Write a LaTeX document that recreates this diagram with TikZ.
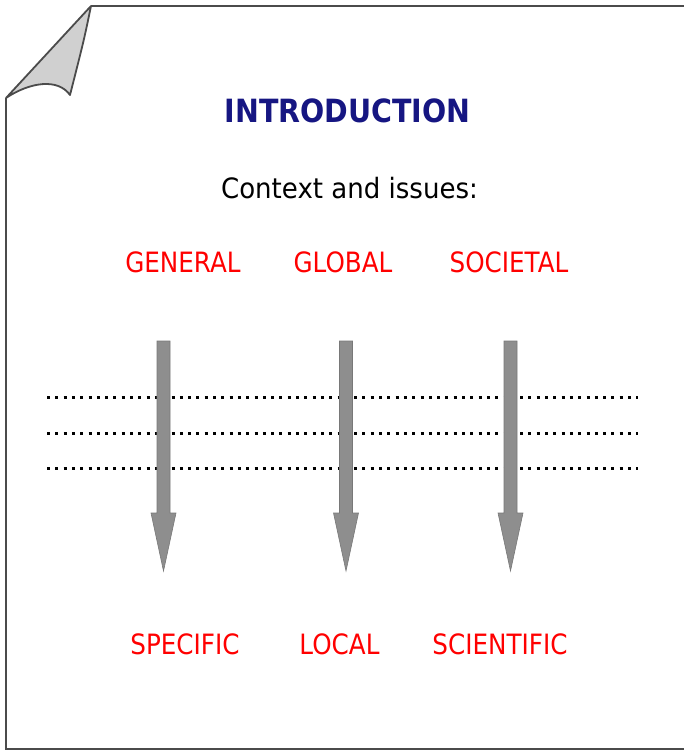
\documentclass[tikz,border=0pt]{standalone}
\usepackage{fontspec}
\setmainfont{DejaVu Sans}
\newfontfamily\capsfont[FakeStretch=0.88]{DejaVu Sans}
\newfontfamily\headfont[FakeStretch=0.89]{DejaVu Sans}
\newfontfamily\subfont[FakeStretch=0.93]{DejaVu Sans}
\usetikzlibrary{calc}
\definecolor{navyblue}{RGB}{22,22,130}
\definecolor{arrowgray}{RGB}{142,142,142}
\definecolor{arrowedge}{RGB}{120,120,120}
\definecolor{pageline}{RGB}{75,75,75}
\definecolor{foldgray}{RGB}{208,208,208}
\tikzset{
  title/.style={anchor=base, text=navyblue, font=\headfont\bfseries\fontsize{32}{36}\selectfont},
  subtitle/.style={anchor=base, text=black, font=\subfont\fontsize{28}{32}\selectfont},
  scale label/.style={anchor=base, text=red, font=\capsfont\fontsize{28}{32}\selectfont},
  dotline/.style={line width=3pt, dash pattern=on 3pt off 5.3pt},
  bigarrow/.style={fill=arrowgray, draw=arrowedge, line width=0.6pt, line join=miter,
    to path={let \p1=(\tikztostart), \p2=(\tikztotarget) in
      (\x1-6.5pt,\y1) -- (\x1+6.5pt,\y1) -- (\x1+6.5pt,\y2+58pt) -- (\x1+12.5pt,\y2+58pt)
      -- (\x2,\y2) -- (\x1-12.5pt,\y2+58pt) -- (\x1-6.5pt,\y2+58pt) -- cycle}}
}

\begin{document}
\begin{tikzpicture}[x=1pt,y=-1pt]
            \useasboundingbox (0,0) rectangle (684,751);
            % Page outline with the folded corner
            \draw[pageline, line width=2.8pt] (6,98) -- (6,749) -- (686,749);
            \draw[pageline, line width=2.8pt] (91,6) -- (686,6);
            \filldraw[fill=foldgray, draw=pageline, line width=1.8pt, line join=round]
                (6,98) -- (91,6) .. controls (84,40) .. (70,95)
                .. controls (58,78) and (30,82) .. (6,98) -- cycle;
            % Headings
            \node[title] (intro) at (347.5,123) {INTRODUCTION};
            \node[subtitle] (context) at (349.5,199) {Context and issues:};
            % Labels at the top
            \node[scale label] (general) at (183,272) {GENERAL};
            \node[scale label] (global) at (343,272) {GLOBAL};
            \node[scale label] (societal) at (509,272) {SOCIETAL};
            % Labels at the bottom
            \node[scale label] (specific) at (185,654) {SPECIFIC};
            \node[scale label] (local) at (339.5,654) {LOCAL};
            \node[scale label] (scientific) at (500,654) {SCIENTIFIC};
            % Dotted levels
            \foreach \y [count=\i] in {397,433,468} {
                \coordinate (lev\i w) at (47,\y);
                \coordinate (lev\i e) at (638,\y);
                \draw[dotline] (lev\i w) -- (lev\i e);
            }
            % Arrows
            \foreach \x [count=\i] in {163.5,346,510.5} {
                \coordinate (arr\i s) at (\x,341);
                \coordinate (arr\i e) at (\x,571);
                \draw[bigarrow] (arr\i s) to (arr\i e);
            }
        \end{tikzpicture}
\end{document}
